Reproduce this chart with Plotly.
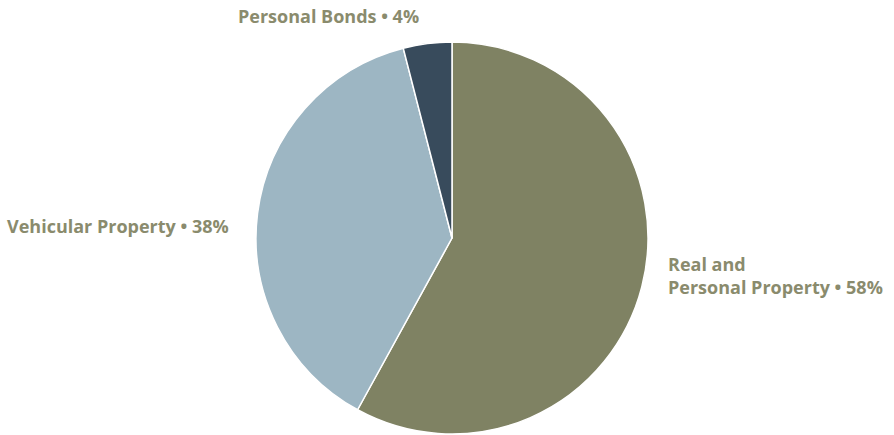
import plotly.graph_objects as go

categories = ["Real and Personal Property", "Vehicular Property", "Personal Bonds"]
values = [58, 38, 4]
label_texts = ["Real and<br>Personal Property • 58%", "Vehicular Property • 38%", "Personal Bonds • 4%"]
colors = ["#7f8263", "#9db6c3", "#384b5c"]

W, H = 894, 435
cx, cy, r = 452, 238, 196

fig = go.Figure(go.Pie(
    labels=categories, values=values, sort=False, direction="clockwise", rotation=0,
    marker=dict(colors=colors, line=dict(color="white", width=1.5)),
    textinfo="none", hoverinfo="label+percent", showlegend=False,
    domain=dict(x=[(cx - r) / W, (cx + r) / W], y=[1 - (cy + r) / H, 1 - (cy - r) / H]),
))

font = dict(family="Open Sans", size=18, color="#8a8b6d")
anns = [
    (666, 275, "left"),
    (5, 226, "left"),
    (236, 16, "left"),
]
for (x, y, xa), t in zip(anns, label_texts):
    fig.add_annotation(x=x / W, y=1 - y / H, xref="paper", yref="paper", text="<b>" + t + "</b>",
                       showarrow=False, xanchor=xa, yanchor="middle", align="left", font=font)

fig.update_layout(width=W, height=H, margin=dict(l=0, r=0, t=0, b=0),
                  paper_bgcolor="white", plot_bgcolor="white")
fig.write_html("out.html")
